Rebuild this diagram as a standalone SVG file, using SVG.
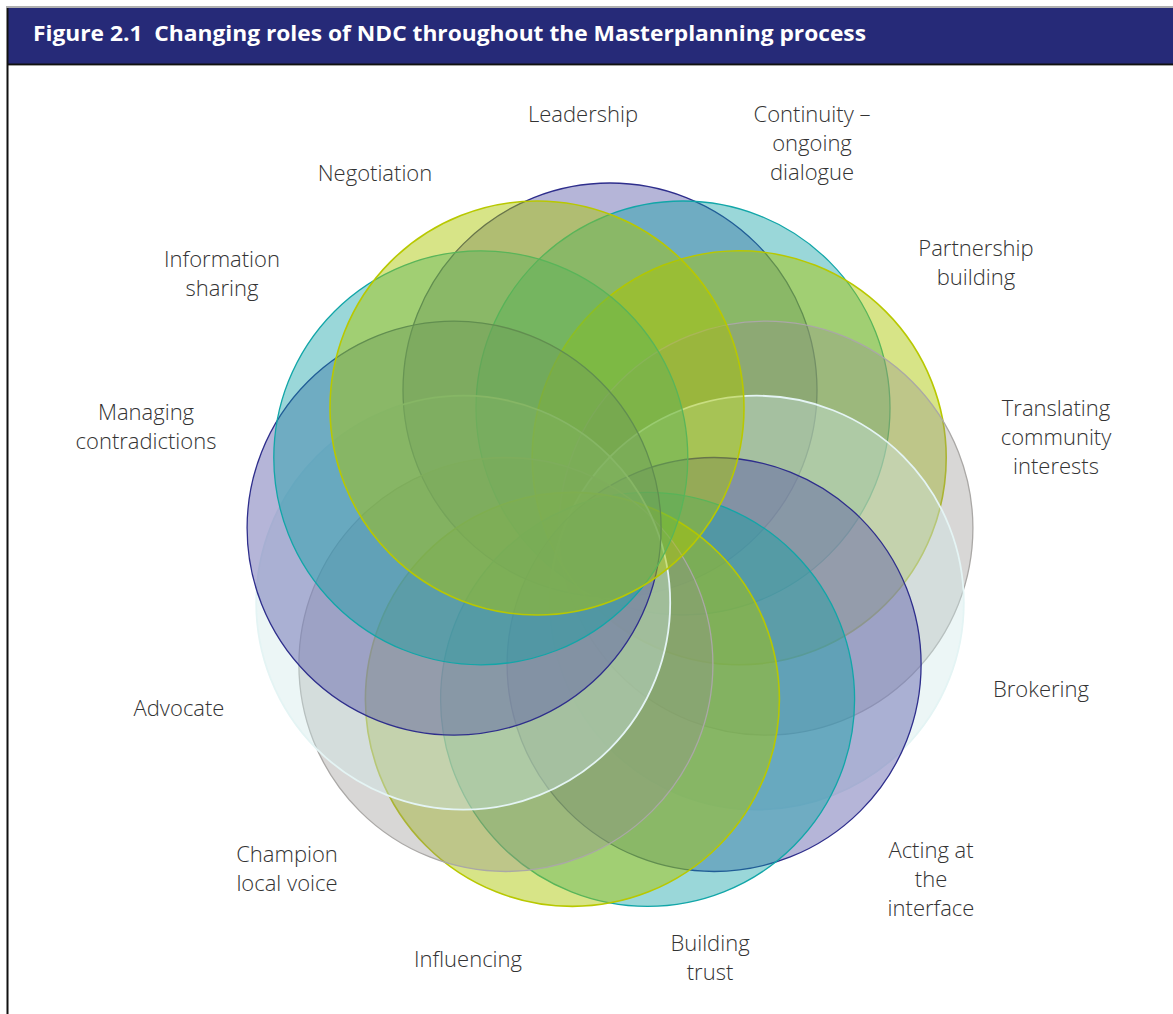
<svg xmlns="http://www.w3.org/2000/svg" width="1173" height="1014" viewBox="0 0 1173 1014">
<style>
.title{font-family:"Open Sans","Noto Sans","Liberation Sans",sans-serif;font-weight:700;font-size:22px;fill:#ffffff}
.lbl{font-family:"Open Sans","Noto Sans","Liberation Sans",sans-serif;font-weight:300;font-size:22px;fill:#333333;text-anchor:middle}
.purple{fill:#5a5aa8;fill-opacity:0.45;stroke:#2e2e8c;stroke-width:1.3}
.teal{fill:#0fa0a4;fill-opacity:0.42;stroke:#12a6a8;stroke-width:1.3}
.yellow{fill:#aac600;fill-opacity:0.47;stroke:#b8c800;stroke-width:1.6}
.grey{fill:#938f8c;fill-opacity:0.36;stroke:#aaa8a6;stroke-width:1.3}
.pale{fill:#cde8e8;fill-opacity:0.38;stroke:#e4f4f4;stroke-width:1.8}
</style>
<rect x="0" y="0" width="1173" height="1014" fill="#ffffff"/>
<g id="frame">
<rect x="6" y="6" width="1167" height="2" fill="#b0b0b0"/>
<rect x="7" y="8" width="1166" height="56" fill="#262a78"/>
<rect x="7" y="63.5" width="1166" height="1.5" fill="#111111"/>
<rect x="7" y="65" width="1166" height="1" fill="#a0a0a0"/>
<rect x="6.5" y="8" width="2" height="1006" fill="#111111"/>
<text class="title" x="33" y="41" xml:space="preserve" textLength="833" lengthAdjust="spacingAndGlyphs">Figure 2.1  Changing roles of NDC throughout the Masterplanning process</text>
</g>
<g id="circles">
<circle id="c-leadership" class="purple" cx="610" cy="390" r="207"/>
<circle id="c-continuity" class="teal" cx="683" cy="408" r="207"/>
<circle id="c-partnership" class="yellow" cx="739.2" cy="457.8" r="207"/>
<circle id="c-translating" class="grey" cx="765.9" cy="528.1" r="207"/>
<circle id="c-brokering" class="pale" cx="756.8" cy="602.7" r="207"/>
<circle id="c-acting" class="purple" cx="714.1" cy="664.5" r="207"/>
<circle id="c-trust" class="teal" cx="647.6" cy="699.4" r="207"/>
<circle id="c-influencing" class="yellow" cx="572.4" cy="699.4" r="207"/>
<circle id="c-champion" class="grey" cx="505.9" cy="664.5" r="207"/>
<circle id="c-advocate" class="pale" cx="463.2" cy="602.7" r="207"/>
<circle id="c-managing" class="purple" cx="454.1" cy="528.1" r="207"/>
<circle id="c-information" class="teal" cx="480.8" cy="457.8" r="207"/>
<circle id="c-negotiation" class="yellow" cx="537" cy="408" r="207"/>
</g>
<g id="labels">
<text class="lbl" x="583" y="122">Leadership</text>
<text class="lbl" x="812" y="122">Continuity –</text>
<text class="lbl" x="812" y="151">ongoing</text>
<text class="lbl" x="812" y="180">dialogue</text>
<text class="lbl" x="976" y="256">Partnership</text>
<text class="lbl" x="976" y="285">building</text>
<text class="lbl" x="1056" y="416">Translating</text>
<text class="lbl" x="1056" y="445">community</text>
<text class="lbl" x="1056" y="474">interests</text>
<text class="lbl" x="1041" y="697">Brokering</text>
<text class="lbl" x="931" y="858">Acting at</text>
<text class="lbl" x="931" y="887">the</text>
<text class="lbl" x="931" y="916">interface</text>
<text class="lbl" x="710" y="951">Building</text>
<text class="lbl" x="710" y="980">trust</text>
<text class="lbl" x="468" y="967">Influencing</text>
<text class="lbl" x="287" y="862">Champion</text>
<text class="lbl" x="287" y="891">local voice</text>
<text class="lbl" x="179" y="716">Advocate</text>
<text class="lbl" x="146" y="420">Managing</text>
<text class="lbl" x="146" y="449">contradictions</text>
<text class="lbl" x="222" y="267">Information</text>
<text class="lbl" x="222" y="296">sharing</text>
<text class="lbl" x="375" y="181">Negotiation</text>
</g>
</svg>
